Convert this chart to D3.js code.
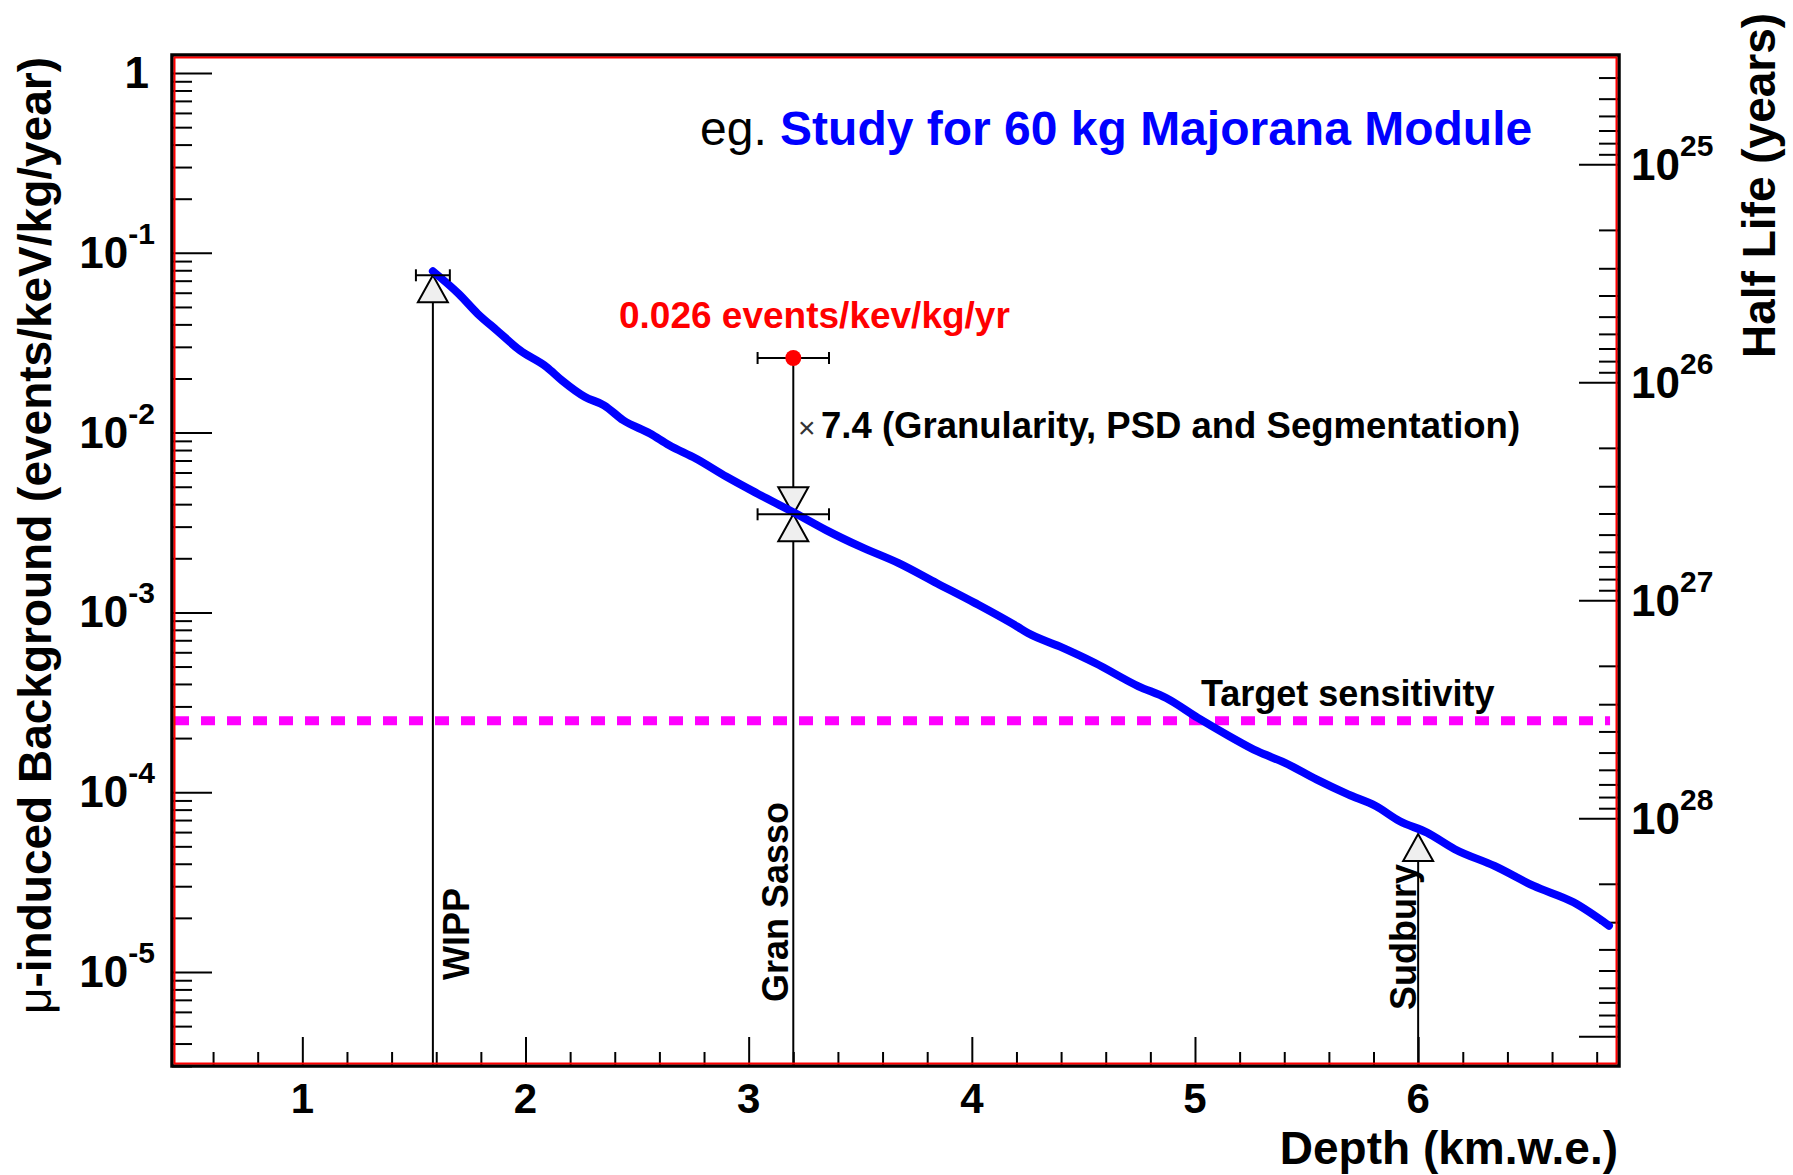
<!DOCTYPE html>
<html>
<head>
<meta charset="utf-8">
<script src="https://cdn.jsdelivr.net/npm/d3@7"></script>
<style>
  html, body { margin: 0; padding: 0; background: #fff; }
  svg { display: block; }
  text { font-family: "Liberation Sans", Arial, Helvetica, sans-serif; }
</style>
</head>
<body>
<svg id="chart" width="1793" height="1175"></svg>
<script>
// Muon-induced background versus overburden depth
const depth = [1.585, 1.701, 1.786, 1.872, 1.975, 2.095, 2.163, 2.267, 2.352, 2.438,
  2.558, 2.644, 2.763, 2.901, 3.038, 3.209, 3.347, 3.501, 3.672, 3.843,
  4.015, 4.203, 4.251, 4.393, 4.552, 4.747, 4.871, 5.013, 5.154, 5.279,
  5.403, 5.544, 5.686, 5.810, 5.916, 6.040, 6.164, 6.342, 6.518, 6.696, 6.855];
const background = [0.0790, 0.0591, 0.0458, 0.0370, 0.0287, 0.02315, 0.01953, 0.01578, 0.01419, 0.01172,
  0.00989, 0.00851, 0.00718, 0.00568, 0.00459, 0.00356, 0.00287, 0.00232, 0.00188, 0.001454,
  0.001126, 0.000835, 0.000768, 0.000647, 0.000523, 0.000388, 0.000334, 0.000259, 0.000205, 0.000169,
  0.0001458, 0.0001178, 0.0000972, 0.0000837, 0.0000691, 0.0000596, 0.0000482, 0.0000389, 0.0000301, 0.0000244, 0.0000181];

// Underground sites
const siteNames = ["WIPP", "Gran Sasso", "Sudbury"];
const siteDepth = [1.585, 3.2, 6.0];
const siteDepthErr = [0.076, 0.16, 0];
const reductionFactor = 7.4;
const measuredBackground = 0.026;
const siteBackground = [0.075, measuredBackground / reductionFactor, 5.85e-5];

const targetSensitivity = 2.5e-4;

// Axis ticks
const xMajorTicks = [1, 2, 3, 4, 5, 6];
const leftExponents = [0, -1, -2, -3, -4, -5];
const rightExponents = [25, 26, 27, 28];

// Frame
const X0 = 172, X1 = 1619, Y0 = 55, Y1 = 1066;
const svg = d3.select("#chart");
svg.append("rect").attr("width", 1793).attr("height", 1175).attr("fill", "#fff");

const x = d3.scaleLinear().domain([0.416, 6.9]).range([X0, X1]);
const y = d3.scaleLog().domain([3.0e-6, 1.26]).range([Y1, Y0]);
const yR = d3.scaleLog().domain([Math.pow(10, 24.4986), Math.pow(10, 29.137)]).range([Y0, Y1]);

const FONT = '"Liberation Sans", Arial, Helvetica, sans-serif';

function styleAxis(g) {
  g.select(".domain").remove();
  g.selectAll(".tick line").attr("stroke", "#000").attr("stroke-width", 2);
}

// Left axis ticks (inward)
const leftAll = y.ticks().filter(v => v >= 3e-6 && v <= 1.26);
const isMajor = v => Math.abs(Math.log10(v) - Math.round(Math.log10(v))) < 1e-6;
svg.append("g").attr("transform", `translate(${X0},0)`)
  .call(d3.axisRight(y).tickValues(leftAll.filter(v => !isMajor(v))).tickSize(20).tickFormat(""))
  .call(styleAxis);
svg.append("g").attr("transform", `translate(${X0},0)`)
  .call(d3.axisRight(y).tickValues(leftAll.filter(isMajor)).tickSize(40).tickFormat(""))
  .call(styleAxis);

// Right axis ticks (inward)
const rightAll = yR.ticks().filter(v => v >= yR.domain()[0] && v <= yR.domain()[1]);
svg.append("g").attr("transform", `translate(${X1},0)`)
  .call(d3.axisLeft(yR).tickValues(rightAll.filter(v => !isMajor(v))).tickSize(20).tickFormat(""))
  .call(styleAxis);
svg.append("g").attr("transform", `translate(${X1},0)`)
  .call(d3.axisLeft(yR).tickValues(rightAll.filter(isMajor)).tickSize(40).tickFormat(""))
  .call(styleAxis);

// Bottom axis ticks (inward)
svg.append("g").attr("transform", `translate(0,${Y1})`)
  .call(d3.axisTop(x).tickValues(x.ticks(32).filter(v => !xMajorTicks.includes(Math.round(v * 10) / 10))).tickSize(14).tickFormat(""))
  .call(styleAxis);
svg.append("g").attr("transform", `translate(0,${Y1})`)
  .call(d3.axisTop(x).tickValues(xMajorTicks).tickSize(29).tickFormat(""))
  .call(styleAxis);

// Tick labels
const labelG = svg.append("g").attr("font-family", FONT).attr("font-weight", "bold").attr("fill", "#000");
leftExponents.forEach(e => {
  const t = labelG.append("text").attr("x", 155).attr("y", y(Math.pow(10, e)) + 15)
    .attr("text-anchor", "end").attr("font-size", 44);
  if (e === 0) {
    t.attr("x", 149).text("1");
  } else {
    t.append("tspan").text("10");
    t.append("tspan").attr("font-size", 30).attr("dy", -24).text(String(e));
  }
});
rightExponents.forEach(e => {
  const t = labelG.append("text").attr("x", 1631).attr("y", yR(Math.pow(10, e)) + 16)
    .attr("text-anchor", "start").attr("font-size", 44);
  t.append("tspan").text("10");
  t.append("tspan").attr("font-size", 30).attr("dy", -24).text(String(e));
});
xMajorTicks.forEach(v => {
  labelG.append("text").attr("x", x(v)).attr("y", 1113).attr("text-anchor", "middle")
    .attr("font-size", 42).text(String(v));
});

// Axis titles
svg.append("text").attr("x", 1618).attr("y", 1164).attr("text-anchor", "end")
  .attr("font-size", 46).attr("font-weight", "bold").text("Depth (km.w.e.)");
const yTitle = svg.append("text").attr("transform", "translate(51,57) rotate(-90)")
  .attr("text-anchor", "end").attr("font-size", 46).attr("font-weight", "bold");
yTitle.append("tspan").attr("font-weight", "normal").text("\u03bc");
yTitle.append("tspan").text("-induced Background (events/keV/kg/year)");
svg.append("text").attr("transform", "translate(1775,358) rotate(-90)")
  .attr("text-anchor", "start").attr("font-size", 46).attr("font-weight", "bold")
  .text("Half Life (years)");

// Target sensitivity line
svg.append("line")
  .attr("x1", X0 + 3).attr("x2", x(6.86))
  .attr("y1", y(targetSensitivity)).attr("y2", y(targetSensitivity))
  .attr("stroke", "#ff00ff").attr("stroke-width", 9).attr("stroke-dasharray", "14 12");
svg.append("text").attr("x", 1201).attr("y", 706).attr("font-size", 36).attr("font-weight", "bold")
  .text("Target sensitivity");

// Site markers: vertical arrows from the axis to each site's background
const TH = 27, TW = 15;
const tri = (cx, cy, dir) => `M${cx},${cy} L${cx - TW},${cy + dir * TH} L${cx + TW},${cy + dir * TH} Z`;
const markG = svg.append("g");
siteDepth.forEach((d, i) => {
  const cx = x(d), cy = y(siteBackground[i]);
  markG.append("line").attr("x1", cx).attr("x2", cx).attr("y1", cy + TH).attr("y2", Y1)
    .attr("stroke", "#000").attr("stroke-width", 2);
  markG.append("path").attr("d", tri(cx, cy, 1))
    .attr("fill", "#efefef").attr("stroke", "#000").attr("stroke-width", 2);
});
// Measured point at Gran Sasso, reduced by the granularity/PSD/segmentation factor
const gs = 1;
const gx = x(siteDepth[gs]);
markG.append("line").attr("x1", gx).attr("x2", gx)
  .attr("y1", y(measuredBackground)).attr("y2", y(siteBackground[gs]) - TH)
  .attr("stroke", "#000").attr("stroke-width", 2);
markG.append("path").attr("d", tri(gx, y(siteBackground[gs]), -1))
  .attr("fill", "#efefef").attr("stroke", "#000").attr("stroke-width", 2);

// Simulated background curve
const line = d3.line().curve(d3.curveMonotoneX)
  .x((d, i) => x(depth[i])).y((d, i) => y(background[i]));
svg.append("path").datum(depth).attr("d", line)
  .attr("fill", "none").attr("stroke", "#0000ff").attr("stroke-width", 8)
  .attr("stroke-linejoin", "round").attr("stroke-linecap", "round");

// Horizontal error bars
function errBar(xc, err, val) {
  const yy = y(val);
  const g = svg.append("g").attr("stroke", "#000").attr("stroke-width", 2);
  g.append("line").attr("x1", x(xc - err)).attr("x2", x(xc + err)).attr("y1", yy).attr("y2", yy);
  [xc - err, xc + err].forEach(v => {
    g.append("line").attr("x1", x(v)).attr("x2", x(v)).attr("y1", yy - 6).attr("y2", yy + 6);
  });
}
siteDepth.forEach((d, i) => { if (siteDepthErr[i] > 0) errBar(d, siteDepthErr[i], siteBackground[i]); });
errBar(siteDepth[gs], siteDepthErr[gs], measuredBackground);
svg.append("circle").attr("cx", gx).attr("cy", y(measuredBackground)).attr("r", 8).attr("fill", "#ff0000");

// Site labels
const siteLabelPos = [[469, 980], [788, 1002], [1416, 1010]];
siteNames.forEach((n, i) => {
  svg.append("text").attr("transform", `translate(${siteLabelPos[i][0]},${siteLabelPos[i][1]}) rotate(-90)`)
    .attr("font-size", 36).attr("font-weight", "bold").text(n);
});

// Annotations
svg.append("text").attr("x", 619).attr("y", 328).attr("font-size", 37).attr("font-weight", "bold")
  .attr("fill", "#ff0000").text(measuredBackground + " events/kev/kg/yr");
svg.append("text").attr("x", 798).attr("y", 438).attr("font-size", 30).attr("fill", "#333").text("\u00d7");
svg.append("text").attr("x", 821).attr("y", 438).attr("font-size", 36.5).attr("font-weight", "bold")
  .text(reductionFactor + " (Granularity, PSD and Segmentation)");
const title = svg.append("text").attr("x", 700).attr("y", 145).attr("font-size", 48);
title.append("tspan").attr("fill", "#000").text("eg. ");
title.append("tspan").attr("fill", "#0000ff").attr("font-weight", "bold").text("Study for 60 kg Majorana Module");

// Frame: black border with a thin red inner line
svg.append("rect").attr("x", X0).attr("y", Y0).attr("width", X1 - X0).attr("height", Y1 - Y0)
  .attr("fill", "none").attr("stroke", "#000").attr("stroke-width", 3.5);
svg.append("rect").attr("x", X0 + 2.5).attr("y", Y0 + 2.5).attr("width", X1 - X0 - 5).attr("height", Y1 - Y0 - 5)
  .attr("fill", "none").attr("stroke", "#ff0000").attr("stroke-width", 2);
</script>
</body>
</html>
